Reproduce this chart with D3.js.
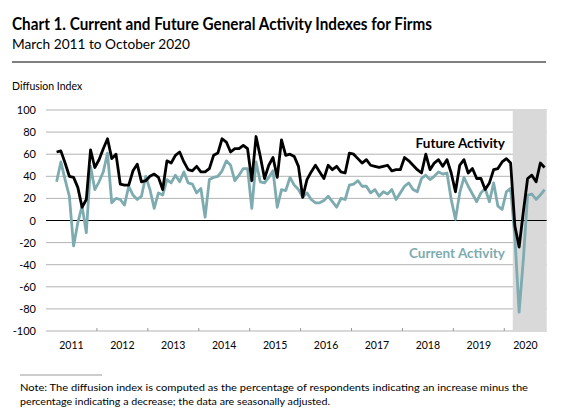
<!DOCTYPE html>
<html>
<head>
<meta charset="utf-8">
<script src="https://cdn.jsdelivr.net/npm/d3@7"></script>
<style>
  body { margin: 0; background: #fff; }
  svg { display: block; font-family: Lato, "Open Sans", sans-serif; }
</style>
</head>
<body>
<svg width="575" height="417"></svg>
<script>
// monthly readings, March 2011 .. October 2020
const futureActivity = [
  62, 63, 52, 40, 39, 30, 12, 19, 64, 48,
  55, 65, 74, 56, 60, 33, 32, 32, 45, 51, 35, 36,
  40, 42, 39, 28, 54, 52, 59, 62, 53, 46, 45, 49,
  44, 44, 47, 59, 61, 74, 71, 62, 65, 65, 68, 65,
  36, 76, 58, 38, 50, 57, 39, 73, 59, 60, 58, 49,
  21, 37, 44, 50, 44, 38, 50, 46, 49, 44, 43, 61,
  60, 56, 52, 55, 50, 49, 48, 49, 50, 45, 46, 46,
  57, 54, 50, 46, 43, 60, 46, 52, 55, 49, 55, 43,
  26, 50, 55, 43, 47, 38, 38, 28, 34, 46, 47, 53,
  56, 52, -5, -24, 8, 38, 41, 35, 52, 48
];
const currentActivity = [
  35, 53, 37, 22, -23, -2, 13, -11, 49, 28,
  35, 44, 61, 16, 20, 19, 14, 31, 23, 19, 22, 40,
  28, 11, 25, 23, 37, 34, 41, 35, 44, 34, 33, 25,
  29, 3, 37, 39, 40, 45, 54, 50, 36, 41, 47, 47,
  11, 53, 35, 34, 39, 45, 12, 28, 27, 39, 32, 28,
  21, 25, 19, 16, 16, 18, 22, 17, 12, 20, 19, 32,
  33, 36, 31, 31, 25, 28, 22, 26, 24, 28, 19, 25,
  31, 34, 28, 26, 38, 41, 37, 40, 44, 42, 43, 19,
  1, 25, 39, 31, 24, 17, 25, 29, 17, 34, 13, 10,
  26, 29, -15, -83, -35, 23, 24, 19, 23, 28
];
const yTicks = [100, 80, 60, 40, 20, 0, -20, -40, -60, -80, -100];
const yearLabels = ["2011", "2012", "2013", "2014", "2015", "2016", "2017", "2018", "2019", "2020"];
const shadeFrom = new Date(2020, 2, 1);

const months = d3.timeMonth.range(new Date(2011, 0, 1), new Date(2020, 10, 1));
const firstData = new Date(2011, 2, 1);
const dataMonths = months.filter(m => m >= firstData);

const svg = d3.select("svg");
const teal = "#7eabb0";

const x = d3.scaleBand()
    .domain(months.map(m => +m))
    .range([46, 546.7])
    .padding(0);
const y = d3.scaleLinear().domain([-100, 100]).range([331, 110]);
const cx = m => x(+m) + x.bandwidth() / 2;

// title block
svg.append("text")
    .attr("x", 12).attr("y", 30)
    .attr("font-size", 16.5).attr("font-weight", "bold")
    .attr("textLength", 420).attr("lengthAdjust", "spacingAndGlyphs")
    .text("Chart 1. Current and Future General Activity Indexes for Firms");
svg.append("text")
    .attr("x", 12).attr("y", 49)
    .attr("font-size", 14)
    .attr("textLength", 178).attr("lengthAdjust", "spacingAndGlyphs")
    .text("March 2011 to October 2020");
svg.append("line")
    .attr("x1", 12).attr("x2", 546).attr("y1", 62).attr("y2", 62)
    .attr("stroke", "#000").attr("stroke-width", 1);
svg.append("text")
    .attr("x", 12).attr("y", 90)
    .attr("font-size", 10.5)
    .text("Diffusion Index");

// gridlines
svg.append("g")
    .selectAll("line")
    .data(yTicks.filter(d => d !== 0))
    .join("line")
    .attr("x1", 46).attr("x2", 546.7)
    .attr("y1", d => y(d)).attr("y2", d => y(d))
    .attr("stroke", "#b3b3b3").attr("stroke-width", 1);

// shaded period
svg.append("rect")
    .attr("x", x(+shadeFrom))
    .attr("y", y(100) - 1)
    .attr("width", 546.7 - x(+shadeFrom))
    .attr("height", y(-100) - y(100) + 1)
    .attr("fill", "#d9d9d9");

// zero line
svg.append("line")
    .attr("x1", 46).attr("x2", 546.7)
    .attr("y1", y(0)).attr("y2", y(0))
    .attr("stroke", "#000").attr("stroke-width", 1.2);

// y labels
svg.append("g")
    .selectAll("text")
    .data(yTicks)
    .join("text")
    .attr("x", 36).attr("y", d => y(d) + 4)
    .attr("text-anchor", "end")
    .attr("font-size", 11)
    .text(d => d);

// x axis ticks at year boundaries
const yearStarts = months.filter(m => m.getMonth() === 0);
svg.append("g")
    .selectAll("line")
    .data(yearStarts.slice(1))
    .join("line")
    .attr("x1", d => x(+d)).attr("x2", d => x(+d))
    .attr("y1", y(-100)).attr("y2", y(-100) - 3)
    .attr("stroke", "#999");

svg.append("g")
    .selectAll("text")
    .data(yearLabels)
    .join("text")
    .attr("x", (d, i) => {
        const inYear = months.filter(m => m.getFullYear() === +d);
        return (x(+inYear[0]) + x(+inYear[inYear.length - 1]) + x.bandwidth()) / 2;
    })
    .attr("y", 349)
    .attr("text-anchor", "middle")
    .attr("font-size", 10.5)
    .text(d => d);

// series
const line = d3.line()
    .x((d, i) => cx(dataMonths[i]))
    .y(d => y(d))
    .curve(d3.curveLinear);

svg.append("path")
    .datum(currentActivity)
    .attr("fill", "none")
    .attr("stroke", teal)
    .attr("stroke-width", 2.8)
    .attr("stroke-linejoin", "round")
    .attr("d", line);

svg.append("path")
    .datum(futureActivity)
    .attr("fill", "none")
    .attr("stroke", "#000")
    .attr("stroke-width", 2.8)
    .attr("stroke-linejoin", "round")
    .attr("d", line);

// series labels
svg.append("text")
    .attr("x", 505).attr("y", 148)
    .attr("text-anchor", "end")
    .attr("font-size", 13.5).attr("font-weight", "bold")
    .text("Future Activity");
svg.append("text")
    .attr("x", 505).attr("y", 258)
    .attr("text-anchor", "end")
    .attr("font-size", 13.5).attr("font-weight", "bold")
    .attr("fill", teal)
    .text("Current Activity");

// note
svg.append("line")
    .attr("x1", 20).attr("x2", 102).attr("y1", 375).attr("y2", 375)
    .attr("stroke", "#999");
svg.append("text")
    .attr("x", 20).attr("y", 391)
    .attr("font-size", 10)
    .attr("textLength", 508).attr("lengthAdjust", "spacingAndGlyphs")
    .text("Note:  The diffusion index is computed as the percentage of respondents indicating an increase minus the");
svg.append("text")
    .attr("x", 20).attr("y", 405)
    .attr("font-size", 10)
    .attr("textLength", 310).attr("lengthAdjust", "spacingAndGlyphs")
    .text("percentage indicating a decrease; the data are seasonally adjusted.");
</script>
</body>
</html>
